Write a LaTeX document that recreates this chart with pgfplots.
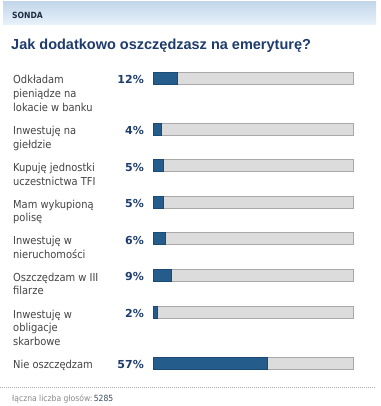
\documentclass[border=0pt]{standalone}
\usepackage{pgfplots}
\pgfplotsset{compat=1.18}
\usepackage{fontspec}
\setmainfont{DejaVu Sans Condensed}
\newfontfamily\titlefont{Liberation Sans}
\newfontfamily\pctfont{DejaVu Sans}
\definecolor{hdrtop}{HTML}{C3D7EA}
\definecolor{hdrbot}{HTML}{E9F2FA}
\definecolor{sonda}{HTML}{1E2C44}
\definecolor{titlec}{HTML}{1D3B6C}
\definecolor{labc}{HTML}{444444}
\definecolor{pctc}{HTML}{1F3D6C}
\definecolor{barc}{HTML}{245C8C}
\definecolor{barb}{HTML}{1B4A74}
\definecolor{trackc}{HTML}{DCDCDC}
\definecolor{trackb}{HTML}{A8A8A8}
\definecolor{footc}{HTML}{8A8A8A}
\definecolor{footn}{HTML}{3A4A66}
\begin{document}
\begin{tikzpicture}
\useasboundingbox (0pt,0pt) rectangle (380pt,-406pt);
\fill[white] (0pt,0pt) rectangle (380pt,-406pt);
\begin{axis}[at={(153pt,0pt)},anchor=north west,scale only axis,width=200pt,height=406pt,
  xmin=0,xmax=100,ymin=0,ymax=406,y dir=reverse,axis lines=none,clip=false]
\addplot[xbar,bar shift=0pt,bar width=12pt,fill=trackc,draw=trackb,line width=0.8pt]
  coordinates {(100,78) (100,129) (100,165.5) (100,202) (100,238.5) (100,275) (100,312) (100,363)};
\addplot[xbar,bar shift=0pt,bar width=12pt,fill=barc,draw=barb,line width=0.8pt]
  coordinates {(12,78) (4,129) (5,165.5) (5,202) (6,238.5) (9,275) (2,312) (57,363)};
\end{axis}
\begin{scope}[x=1pt,y=-1pt]
\shade[top color=hdrtop,bottom color=hdrbot] (3,2) rectangle (376,25);
\node[anchor=base west,inner sep=0,font=\fontsize{8.5}{10}\selectfont\bfseries,text=sonda] at (12,18.5) {SONDA};
\node[anchor=base west,inner sep=0,font=\titlefont\fontsize{14.5}{17}\selectfont\bfseries,text=titlec] at (11,49.5) {Jak dodatkowo oszczędzasz na emeryturę?};
\tikzset{lab/.style={anchor=base west,inner sep=0,font=\fontsize{11}{13}\selectfont,text=labc},
  pct/.style={anchor=base east,inner sep=0,font=\pctfont\fontsize{11}{13}\selectfont\bfseries,text=pctc}}
% row 1
\node[lab] at (13,84) {Odkładam};
\node[lab] at (13,97.8) {pieniądze na};
\node[lab] at (13,111.6) {lokacie w banku};
\node[pct] at (144,83.5) {12\%};
% row 2
\node[lab] at (13,135) {Inwestuję na};
\node[lab] at (13,148.8) {giełdzie};
\node[pct] at (144,134.5) {4\%};
% row 3
\node[lab] at (13,171.5) {Kupuję jednostki};
\node[lab] at (13,185.3) {uczestnictwa TFI};
\node[pct] at (144,171) {5\%};
% row 4
\node[lab] at (13,208) {Mam wykupioną};
\node[lab] at (13,221.8) {polisę};
\node[pct] at (144,207.5) {5\%};
% row 5
\node[lab] at (13,244.5) {Inwestuję w};
\node[lab] at (13,258.3) {nieruchomości};
\node[pct] at (144,244) {6\%};
% row 6
\node[lab] at (13,281) {Oszczędzam w III};
\node[lab] at (13,294.8) {filarze};
\node[pct] at (144,280.5) {9\%};
% row 7
\node[lab] at (13,318) {Inwestuję w};
\node[lab] at (13,331.8) {obligacje};
\node[lab] at (13,345.6) {skarbowe};
\node[pct] at (144,317.5) {2\%};
% row 8
\node[lab] at (13,368.5) {Nie oszczędzam};
\node[pct] at (144,368.5) {57\%};
% footer
\draw[footc!70,line width=0.8pt,dash pattern=on 1pt off 1pt] (0,387.5) -- (376,387.5);
\node[anchor=base west,inner sep=0,font=\fontsize{8.5}{10}\selectfont] at (12,401)
  {\textcolor{footc}{łączna liczba głosów:}\,\textcolor{footn}{5285}};
\end{scope}
\end{tikzpicture}
\end{document}
